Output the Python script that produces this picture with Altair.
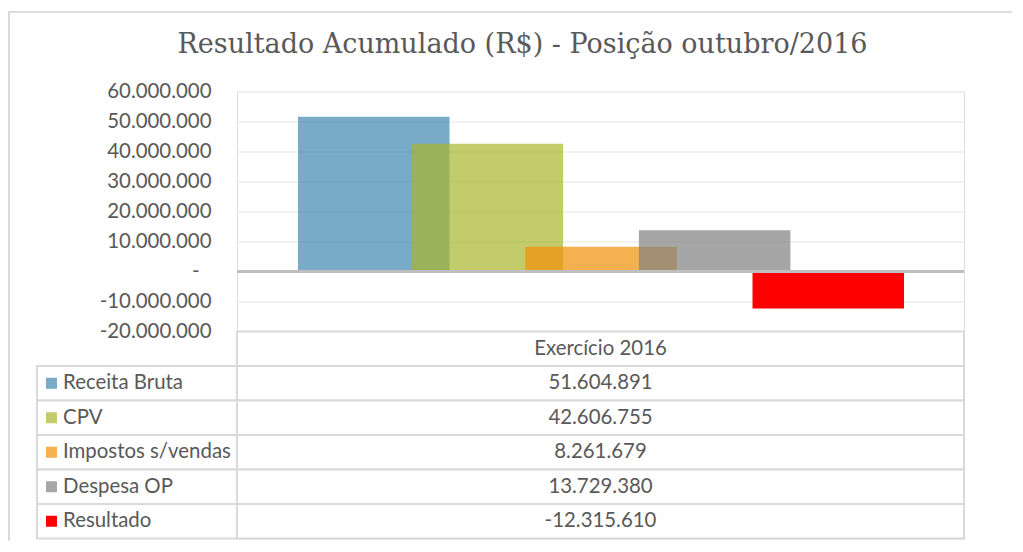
import altair as alt
import pandas as pd

# ---------------- data ----------------
series = ["Receita Bruta", "CPV", "Impostos s/vendas", "Despesa OP", "Resultado"]
values = [51604891, 42606755, 8261679, 13729380, -12315610]
category = "Exercício 2016"
y_ticks = [-20000000, -10000000, 0, 10000000, 20000000, 30000000,
           40000000, 50000000, 60000000]
title_text = "Resultado Acumulado (R$) - Posição outubro/2016"

# ---------------- style ----------------
palette = ["rgba(62,135,176,0.7)", "rgba(168,182,44,0.7)", "rgba(241,144,4,0.7)",
           "rgba(128,128,128,0.7)", "#FF0000"]
FONT = "Lato"
TXT = "#595959"
LINE = "#D9D9D9"
FS = 20.4

W = 727        # plot width (category band)
H_TOP = 240    # bar plot height
H_TAB = 207    # data table height

# Excel-like clustered bars with 25% overlap (fractions of the category band)
GAP_LEFT = 0.0839
BAR_W = 0.2084
STEP = 0.75 * BAR_W

# left column of the data table (fractions of W, to the left of the plot)
COL_LEFT = -0.2751
SQ_X = -0.2552
LBL_X = -0.2393


def br_fmt(v):
    return f"{v:,}".replace(",", ".")


bars = pd.DataFrame({"serie": series, "valor": values})
bars["idx"] = range(len(series))
bars["x0"] = GAP_LEFT + bars["idx"] * STEP
bars["x1"] = bars["x0"] + BAR_W
bars["base"] = 0

color_scale = alt.Scale(domain=series, range=palette)
unit_x = alt.Scale(domain=[0, 1], nice=False, zero=False)
val_scale = alt.Scale(domain=[-20000000, 60000000], nice=False, zero=False)

label_expr = ("datum.value == 0 ? '-' : "
              "replace(replace(format(datum.value, ',d'), regexp(',', 'g'), '.'), '\u2212', '-')")

y_axis = alt.Axis(values=y_ticks, tickCount=9, labelExpr=label_expr, grid=True,
                  gridColor="#EEEEEE", gridWidth=1.5, domain=False,
                  ticks=False,
                  labelPadding={"condition": {"test": "datum.value == 0", "value": 38},
                                "value": 26},
                  labelFont=FONT,
                  labelFontSize=FS, labelColor=TXT, labelFlush=False,
                  labelOverlap=False, title=None)

# ---------------- top: bars ----------------
bar_layer = alt.Chart(bars).mark_rect(strokeWidth=0).encode(
    x=alt.X("x0:Q", scale=unit_x, axis=None),
    x2="x1",
    y=alt.Y("valor:Q", scale=val_scale, axis=y_axis),
    y2="base",
    color=alt.Color("serie:N", scale=color_scale, legend=None),
    order=alt.Order("idx:Q"),
)

zero_rule = alt.Chart(bars).mark_rule(color="#BFBFBF", strokeWidth=2.7).encode(
    y=alt.Y(datum=0, scale=val_scale, axis=y_axis),
    x=alt.X(datum=0, scale=unit_x, axis=None),
    x2=alt.X2(datum=1),
)

top = alt.layer(bar_layer, zero_rule).properties(
    width=W, height=H_TOP,
    title=alt.TitleParams(text=title_text, font="DejaVu Serif", fontSize=27,
                          fontWeight="normal", color=TXT, anchor="middle",
                          frame="group", dx=-78, offset=1.5, baseline="alphabetic"),
)

# ---------------- bottom: data table ----------------
rows = [category] + series
tab = pd.DataFrame({
    "row": rows,
    "texto": [category] + [br_fmt(v) for v in values],
    "serie": [""] + series,
})
ys = alt.Y("row:N", scale=alt.Scale(domain=rows, paddingInner=0, paddingOuter=0),
           axis=None)

base = alt.Chart(tab)
value_cells = base.mark_rect(fill="white", stroke=LINE, strokeWidth=2).encode(
    x=alt.X(datum=0, scale=unit_x, axis=None), x2=alt.X2(datum=1), y=ys
)
label_cells = base.transform_filter(alt.datum.serie != "").mark_rect(
    fill="white", stroke=LINE, strokeWidth=2).encode(
    x=alt.X(datum=COL_LEFT, scale=unit_x, axis=None), x2=alt.X2(datum=0), y=ys
)
value_text = base.mark_text(font=FONT, fontSize=FS, color=TXT, align="center",
                            baseline="middle").encode(
    x=alt.X(datum=0.5, scale=unit_x, axis=None), y=ys, text="texto:N"
)
squares = base.transform_filter(alt.datum.serie != "").mark_square(
    size=121, opacity=1, filled=True).encode(
    x=alt.X(datum=SQ_X, scale=unit_x, axis=None), y=ys,
    color=alt.Color("serie:N", scale=color_scale, legend=None),
)
label_text = base.transform_filter(alt.datum.serie != "").mark_text(
    font=FONT, fontSize=FS, color=TXT, align="left", baseline="middle").encode(
    x=alt.X(datum=LBL_X, scale=unit_x, axis=None), y=ys, text="serie:N"
)

# chart-area frame (top and left edges, as in the spreadsheet chart)
frame_top = base.mark_rule(color=LINE, strokeWidth=1).encode(
    x=alt.value(-228), x2=alt.value(775), y=alt.value(-H_TOP - 79.8)
)
frame_left = base.mark_rule(color=LINE, strokeWidth=1).encode(
    x=alt.value(-228), y=alt.value(-H_TOP - 79.8), y2=alt.value(H_TAB + 2)
)

bottom = alt.layer(frame_top, frame_left, label_cells, value_cells, value_text,
                   squares, label_text).properties(width=W, height=H_TAB)

chart = alt.vconcat(top, bottom, spacing=0, bounds="flush").properties(
    padding={"left": 0, "top": 2.5, "right": 0, "bottom": 0}
).configure_view(strokeWidth=0).configure(background="white")

chart.save("out.html", embed_options={"renderer": "svg", "actions": False})
